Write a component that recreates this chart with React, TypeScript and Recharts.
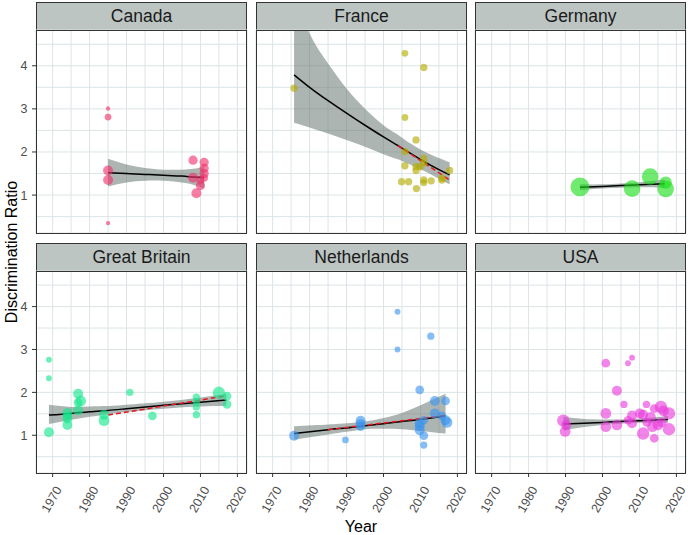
import React from 'react';
import { ComposedChart, XAxis, YAxis, ZAxis, CartesianGrid, Scatter, Line, Area } from 'recharts';

const FONT = '"Liberation Sans", Arial, Helvetica, sans-serif';

const countries = ['Canada', 'France', 'Germany', 'Great Britain', 'Netherlands', 'USA'];
const pointColors = ['#F0306A', '#B3AB00', '#19DE19', '#14E68A', '#3A95EE', '#EA3ADB'];
const xTicks = [1970, 1975, 1980, 1985, 1990, 1995, 2000, 2005, 2010, 2015, 2020];
const yTicks = [0.5, 1, 1.5, 2, 2.5, 3, 3.5, 4, 4.5];

// points: year, ratio, n (weight → point size)
const canadaPoints = [
  { year: 1985, ratio: 3.01, n: 5 }, { year: 1985, ratio: 2.81, n: 12 }, { year: 1985, ratio: 1.57, n: 26 },
  { year: 1985, ratio: 1.35, n: 26 }, { year: 1985, ratio: 0.35, n: 5 }, { year: 2008, ratio: 1.81, n: 22 },
  { year: 2011, ratio: 1.76, n: 22 }, { year: 2011, ratio: 1.62, n: 22 }, { year: 2011, ratio: 1.5, n: 22 },
  { year: 2008, ratio: 1.4, n: 26 }, { year: 2010, ratio: 1.22, n: 22 }, { year: 2008.9, ratio: 1.04, n: 26 },
  { year: 2010, ratio: 1.35, n: 16 }, { year: 2011, ratio: 1.4, n: 16 },
];
const francePoints = [
  { year: 1975.8, ratio: 3.48, n: 14 }, { year: 2005.8, ratio: 4.29, n: 12 }, { year: 2010.9, ratio: 3.96, n: 14 },
  { year: 2005.8, ratio: 2.8, n: 12 }, { year: 2008.8, ratio: 2.28, n: 14 }, { year: 2005.8, ratio: 2.01, n: 14 },
  { year: 2005.8, ratio: 1.68, n: 14 }, { year: 2010.9, ratio: 1.85, n: 14 }, { year: 2010.9, ratio: 1.74, n: 14 },
  { year: 2008.8, ratio: 1.66, n: 14 }, { year: 2008.8, ratio: 1.57, n: 14 }, { year: 2009.9, ratio: 1.66, n: 14 },
  { year: 2004.9, ratio: 1.31, n: 14 }, { year: 2006.8, ratio: 1.31, n: 14 }, { year: 2010.9, ratio: 1.35, n: 14 },
  { year: 2010.9, ratio: 1.29, n: 14 }, { year: 2012.9, ratio: 1.33, n: 14 }, { year: 2008.9, ratio: 1.15, n: 14 },
  { year: 2015.8, ratio: 1.39, n: 14 }, { year: 2017.9, ratio: 1.57, n: 14 }, { year: 2015.8, ratio: 1.35, n: 14 },
];
const germanyPoints = [
  { year: 1993.9, ratio: 1.19, n: 94 }, { year: 2008, ratio: 1.15, n: 72 }, { year: 2012.9, ratio: 1.43, n: 72 },
  { year: 2017.1, ratio: 1.29, n: 40 }, { year: 2017.1, ratio: 1.14, n: 72 },
];
const britainPoints = [
  { year: 1969, ratio: 2.76, n: 9 }, { year: 1969, ratio: 2.33, n: 9 }, { year: 1969, ratio: 1.07, n: 26 },
  { year: 1974, ratio: 1.52, n: 26 }, { year: 1974, ratio: 1.39, n: 26 }, { year: 1974, ratio: 1.24, n: 26 },
  { year: 1974, ratio: 1.45, n: 20 }, { year: 1976.9, ratio: 1.97, n: 26 }, { year: 1977.6, ratio: 1.8, n: 30 },
  { year: 1976.9, ratio: 1.76, n: 20 }, { year: 1976.9, ratio: 1.58, n: 26 }, { year: 1983.9, ratio: 1.48, n: 26 },
  { year: 1983.9, ratio: 1.34, n: 30 }, { year: 1990.9, ratio: 2.0, n: 14 }, { year: 1997, ratio: 1.45, n: 20 },
  { year: 2008.9, ratio: 1.89, n: 14 }, { year: 2008.9, ratio: 1.78, n: 14 }, { year: 2008.9, ratio: 1.66, n: 14 },
  { year: 2008.9, ratio: 1.48, n: 14 }, { year: 2015, ratio: 1.99, n: 40 }, { year: 2017.2, ratio: 1.91, n: 20 },
  { year: 2017.2, ratio: 1.72, n: 20 },
];
const netherlandsPoints = [
  { year: 1975.8, ratio: 0.99, n: 26 }, { year: 1989.7, ratio: 0.89, n: 12 }, { year: 1993.8, ratio: 1.34, n: 26 },
  { year: 1993.8, ratio: 1.26, n: 26 }, { year: 1993.8, ratio: 1.2, n: 20 }, { year: 2003.8, ratio: 3.88, n: 9 },
  { year: 2003.8, ratio: 3.0, n: 9 }, { year: 2012.8, ratio: 3.31, n: 14 }, { year: 2009.8, ratio: 2.06, n: 20 },
  { year: 2013.9, ratio: 1.8, n: 26 }, { year: 2016.8, ratio: 1.8, n: 20 }, { year: 2013.9, ratio: 1.51, n: 26 },
  { year: 2015.8, ratio: 1.45, n: 20 }, { year: 2009.8, ratio: 1.28, n: 26 }, { year: 2009.8, ratio: 1.21, n: 26 },
  { year: 2009.8, ratio: 1.12, n: 26 }, { year: 2010.9, ratio: 1.35, n: 20 }, { year: 2010.9, ratio: 0.99, n: 20 },
  { year: 2010.9, ratio: 0.77, n: 14 }, { year: 2016.8, ratio: 1.35, n: 26 }, { year: 2017.2, ratio: 1.3, n: 30 },
];
const usaPoints = [
  { year: 2000.9, ratio: 2.68, n: 20 }, { year: 2006.9, ratio: 2.68, n: 9 }, { year: 2008, ratio: 2.81, n: 9 },
  { year: 2003.9, ratio: 2.04, n: 26 }, { year: 2005.8, ratio: 1.72, n: 14 }, { year: 2000.9, ratio: 1.51, n: 30 },
  { year: 2000.9, ratio: 1.2, n: 30 }, { year: 2003.9, ratio: 1.24, n: 30 }, { year: 1989.4, ratio: 1.34, n: 40 },
  { year: 1989.9, ratio: 1.09, n: 30 }, { year: 1990.2, ratio: 1.24, n: 26 }, { year: 2006.9, ratio: 1.35, n: 20 },
  { year: 2008, ratio: 1.28, n: 26 }, { year: 2008, ratio: 1.46, n: 26 }, { year: 2010.1, ratio: 1.51, n: 26 },
  { year: 2011.9, ratio: 1.72, n: 14 }, { year: 2011, ratio: 1.04, n: 40 }, { year: 2014, ratio: 0.93, n: 20 },
  { year: 2014, ratio: 1.62, n: 20 }, { year: 2015.8, ratio: 1.66, n: 40 }, { year: 2016.5, ratio: 1.57, n: 30 },
  { year: 2018, ratio: 1.51, n: 40 }, { year: 2018, ratio: 1.14, n: 40 }, { year: 2015, ratio: 1.24, n: 30 },
  { year: 2013, ratio: 1.42, n: 30 }, { year: 2011, ratio: 1.48, n: 26 }, { year: 2013.5, ratio: 1.2, n: 30 },
  { year: 2016, ratio: 1.3, n: 26 }, { year: 2012, ratio: 1.3, n: 20 },
];

// smooth fits: year, fit, lo, hi, red (dashed subset fit)
const canadaFit = [
  { year: 1985, fit: 1.52, lo: 1.2, hi: 1.84 }, { year: 1990, fit: 1.5, lo: 1.29, hi: 1.71 },
  { year: 1995, fit: 1.48, lo: 1.33, hi: 1.63 }, { year: 2000, fit: 1.46, lo: 1.33, hi: 1.59 },
  { year: 2005, fit: 1.44, lo: 1.29, hi: 1.59 }, { year: 2008, fit: 1.42, lo: 1.24, hi: 1.61 },
  { year: 2011, fit: 1.41, lo: 1.16, hi: 1.66 },
];
const franceFit = [
  { year: 1975.8, fit: 3.79, lo: 2.68, hi: 5.7 }, { year: 1980, fit: 3.5, lo: 2.57, hi: 4.75 },
  { year: 1985, fit: 3.19, lo: 2.43, hi: 4.05 }, { year: 1990, fit: 2.9, lo: 2.28, hi: 3.47 },
  { year: 1995, fit: 2.62, lo: 2.12, hi: 3.0 }, { year: 2000, fit: 2.35, lo: 1.95, hi: 2.62 },
  { year: 2003.9, fit: 2.15, lo: 1.83, hi: 2.4, red: 2.15 }, { year: 2005, fit: 2.09, lo: 1.79, hi: 2.33 },
  { year: 2010, fit: 1.83, lo: 1.6, hi: 2.06 }, { year: 2015, fit: 1.59, lo: 1.38, hi: 1.86 },
  { year: 2017.9, fit: 1.47, lo: 1.25, hi: 1.76, red: 1.35 },
];
const germanyFit = [
  { year: 1993.9, fit: 1.18, lo: 1.11, hi: 1.25 }, { year: 2000, fit: 1.2, lo: 1.15, hi: 1.25 },
  { year: 2005, fit: 1.22, lo: 1.17, hi: 1.27 }, { year: 2010, fit: 1.24, lo: 1.18, hi: 1.3 },
  { year: 2016.8, fit: 1.26, lo: 1.17, hi: 1.36 },
];
const britainFit = [
  { year: 1969, fit: 1.47, lo: 1.26, hi: 1.71 }, { year: 1975, fit: 1.51, lo: 1.36, hi: 1.66 },
  { year: 1980, fit: 1.55, lo: 1.43, hi: 1.67 }, { year: 1985, fit: 1.58, lo: 1.49, hi: 1.68, red: 1.47 },
  { year: 1990, fit: 1.62, lo: 1.54, hi: 1.71 }, { year: 2000, fit: 1.7, lo: 1.62, hi: 1.78 },
  { year: 2010, fit: 1.77, lo: 1.67, hi: 1.88 }, { year: 2017, fit: 1.82, lo: 1.69, hi: 1.96, red: 1.92 },
];
const netherlandsFit = [
  { year: 1975.8, fit: 1.04, lo: 0.9, hi: 1.21 }, { year: 1985, fit: 1.13, lo: 1.02, hi: 1.25, red: 1.13 },
  { year: 1990, fit: 1.17, lo: 1.08, hi: 1.28 }, { year: 1995, fit: 1.22, lo: 1.14, hi: 1.32 },
  { year: 2000, fit: 1.27, lo: 1.15, hi: 1.4 }, { year: 2005, fit: 1.32, lo: 1.14, hi: 1.52 },
  { year: 2010, fit: 1.37, lo: 1.1, hi: 1.7 }, { year: 2016.8, fit: 1.45, lo: 1.04, hi: 1.97, red: 1.46 },
];
const usaFit = [
  { year: 1989.4, fit: 1.26, lo: 1.11, hi: 1.43 }, { year: 1995, fit: 1.28, lo: 1.19, hi: 1.38 },
  { year: 2000, fit: 1.3, lo: 1.24, hi: 1.37 }, { year: 2005, fit: 1.32, lo: 1.27, hi: 1.37 },
  { year: 2010, fit: 1.34, lo: 1.29, hi: 1.39 }, { year: 2017.7, fit: 1.37, lo: 1.29, hi: 1.45 },
];

const allPoints = [canadaPoints, francePoints, germanyPoints, britainPoints, netherlandsPoints, usaPoints];
const allFits = [canadaFit, franceFit, germanyFit, britainFit, netherlandsFit, usaFit];

const PANEL_X = [36, 256, 475];
const PANEL_Y = [30, 271];
const PANEL_H = [203, 202];
const PANEL_W = 211;
const STRIP_H = 28;
const BORDER = '#333333';

const XTick = (props: any) => {
  const { x, y, payload } = props;
  const v = payload.value;
  if (v % 10 !== 0) return <g />;
  return (
    <g>
      <line x1={x} x2={x} y1={y} y2={y + 4} stroke={BORDER} strokeWidth={1} />
      <text
        transform={`translate(${x + 9.5},${y + 16.5}) rotate(-60)`}
        textAnchor="end"
        fontSize={12.5}
        fill="#4d4d4d"
        fontFamily={FONT}
      >
        {v}
      </text>
    </g>
  );
};

const YTick = (props: any) => {
  const { x, y, payload } = props;
  const v = payload.value;
  if (v % 1 !== 0) return <g />;
  return (
    <g>
      <line x1={x - 4} x2={x} y1={y} y2={y} stroke={BORDER} strokeWidth={1} />
      <text x={x - 8.5} y={y} dy="0.36em" textAnchor="end" fontSize={12.5} fill="#4d4d4d" fontFamily={FONT}>
        {v}
      </text>
    </g>
  );
};

function Panel({ idx }: { idx: number }) {
  const col = idx % 3;
  const row = Math.floor(idx / 3);
  const px = PANEL_X[col];
  const py = PANEL_Y[row];
  const ph = PANEL_H[row];
  const isLeft = col === 0;
  const isBottom = row === 1;
  const leftW = isLeft ? 36 : 0;
  const botH = isBottom ? 60 : 0;
  const rows = allFits[idx].map((d: any) => ({ year: d.year, fit: d.fit, band: [d.lo, d.hi], red: d.red ?? null }));
  const color = pointColors[idx];
  return (
    <>
      <div
        style={{
          position: 'absolute', left: px, top: py - STRIP_H, width: PANEL_W, height: STRIP_H + 1,
          background: '#bcc5c2', border: `1px solid ${BORDER}`, boxSizing: 'border-box',
          display: 'flex', alignItems: 'center', justifyContent: 'center',
          fontFamily: FONT, fontSize: 17.5, color: '#1a1a1a',
        }}
      >
        {countries[idx]}
      </div>
      <div style={{ position: 'absolute', left: px - leftW, top: py }}>
        <ComposedChart
          width={PANEL_W + leftW}
          height={ph + botH}
          data={rows}
          margin={{ top: 0, right: 0, bottom: 0, left: 0 }}
          style={{ overflow: 'visible' }}
        >
          <CartesianGrid stroke="#dce4e6" strokeWidth={1} />
          <XAxis
            type="number" dataKey="year" domain={[1965.5, 2022.6]} allowDataOverflow ticks={xTicks} interval={0}
            hide={!isBottom} height={botH} tickSize={0} tickMargin={0} axisLine={false} tickLine={false} tick={XTick}
          />
          <YAxis
            type="number" dataKey="ratio" domain={[0.12, 4.83]} allowDataOverflow ticks={yTicks} interval={0}
            hide={!isLeft} width={leftW} tickSize={0} tickMargin={0} axisLine={false} tickLine={false} tick={YTick}
          />
          <ZAxis type="number" dataKey="n" domain={[0, 100]} range={[0, 300]} />
          <Scatter data={allPoints[idx]} dataKey="ratio" fill={color} fillOpacity={0.62} isAnimationActive={false} />
          <Area
            dataKey="band" type="natural" stroke="none" fill="#5c6b68" fillOpacity={0.5}
            isAnimationActive={false} connectNulls dot={false} activeDot={false}
          />
          <Line dataKey="fit" type="natural" stroke="#000" strokeWidth={1.5} dot={false} activeDot={false} isAnimationActive={false} connectNulls />
          <Line dataKey="red" type="linear" stroke="#e8171f" strokeWidth={1.5} strokeDasharray="5 3" dot={false} activeDot={false} isAnimationActive={false} connectNulls />
        </ComposedChart>
      </div>
      <div
        style={{
          position: 'absolute', left: px, top: py, width: PANEL_W, height: ph + 1,
          border: `1px solid ${BORDER}`, boxSizing: 'border-box', pointerEvents: 'none',
        }}
      />
    </>
  );
}

export default function App() {
  return (
    <div style={{ position: 'absolute', left: 0, top: 0, width: 688, height: 535, background: '#fff', overflow: 'hidden' }}>
      <style>{'.recharts-surface{overflow:visible}.recharts-wrapper{overflow:visible}'}</style>
      {countries.map((c, i) => (
        <Panel key={c} idx={i} />
      ))}
      <div
        style={{
          position: 'absolute', left: 12 - 100, top: 252 - 10, width: 200, height: 20, lineHeight: '20px',
          textAlign: 'center', transform: 'rotate(-90deg)', fontFamily: FONT, fontSize: 16, color: '#000',
        }}
      >
        Discrimination Ratio
      </div>
      <div
        style={{
          position: 'absolute', left: 361 - 50, top: 517, width: 100, height: 20, lineHeight: '20px',
          textAlign: 'center', fontFamily: FONT, fontSize: 16, color: '#000',
        }}
      >
        Year
      </div>
    </div>
  );
}
